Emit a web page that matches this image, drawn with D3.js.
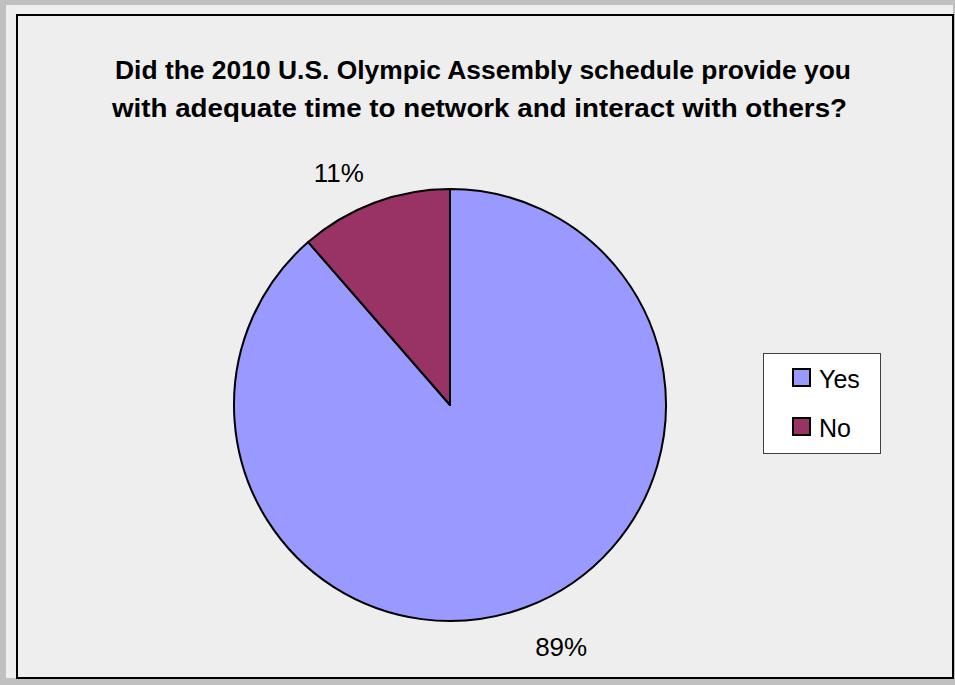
<!DOCTYPE html>
<html>
<head>
<meta charset="utf-8">
<script src="https://cdn.jsdelivr.net/npm/d3@7"></script>
<style>
  html, body { margin: 0; padding: 0; background: #c0c0c0; }
  svg { display: block; }
</style>
</head>
<body>
<script>
// ---- data ----
const categories = ["Yes", "No"];
const values = [88.6, 11.4];
const valueLabels = ["89%", "11%"];
const titleLines = [
  "Did the 2010 U.S. Olympic Assembly schedule provide you",
  "with adequate time to network and interact with others?"
];
const colors = ["#9999ff", "#993366"];

// ---- layout ----
const W = 955, H = 685;
const svg = d3.select("body").append("svg").attr("width", W).attr("height", H);

svg.append("rect").attr("x", 0).attr("y", 0).attr("width", W).attr("height", H).attr("fill", "#c0c0c0");
svg.append("rect").attr("x", 6).attr("y", 5).attr("width", 947).attr("height", 673).attr("fill", "#eeeeee");
svg.append("rect").attr("x", 17).attr("y", 15).attr("width", 936).attr("height", 663)
  .attr("fill", "none").attr("stroke", "#000").attr("stroke-width", 2);

// title
const titleFont = "'Liberation Sans', Arial, sans-serif";
const titleX = [483, 479.5];
const titleY = [78.5, 117];
const titleW = [736, 735];
titleLines.forEach((t, i) => {
  svg.append("text")
    .attr("x", titleX[i]).attr("y", titleY[i])
    .attr("text-anchor", "middle")
    .attr("font-family", titleFont).attr("font-weight", "bold").attr("font-size", 26)
    .attr("textLength", titleW[i]).attr("lengthAdjust", "spacingAndGlyphs")
    .attr("fill", "#000")
    .text(t);
});

// pie
const cx = 450, cy = 405, r = 216;
const pie = d3.pie().sort(null).value(d => d)(values);
const arc = d3.arc().innerRadius(0).outerRadius(r);
const g = svg.append("g").attr("transform", `translate(${cx},${cy})`);
g.selectAll("path").data(pie).join("path")
  .attr("d", arc)
  .attr("fill", (d, i) => colors[i])
  .attr("stroke", "#000").attr("stroke-width", 2).attr("stroke-linejoin", "round");

// data labels
const labelR = 262, angleShift = -0.08;
g.selectAll("text.lbl").data(pie).join("text")
  .attr("class", "lbl")
  .each(function(d, i) {
    const a = (d.startAngle + d.endAngle) / 2 + angleShift;
    d3.select(this)
      .attr("x", Math.sin(a) * labelR)
      .attr("y", -Math.cos(a) * labelR + 14)
      .attr("text-anchor", "middle")
      .attr("font-family", titleFont).attr("font-size", 26)
      .attr("fill", "#000")
      .text(valueLabels[i]);
  });

// legend
const lg = svg.append("g").attr("transform", "translate(763,353)");
lg.append("rect").attr("x", 0.5).attr("y", 0.5).attr("width", 117).attr("height", 100)
  .attr("fill", "#fff").attr("stroke", "#404040").attr("stroke-width", 1);
const ly = d3.scalePoint().domain(categories).range([24, 73]);
categories.forEach((c, i) => {
  lg.append("rect").attr("x", 30).attr("y", ly(c) - 8).attr("width", 17).attr("height", 17)
    .attr("fill", colors[i]).attr("stroke", "#000").attr("stroke-width", 2);
  lg.append("text").attr("x", 56).attr("y", ly(c) + 11)
    .attr("font-family", titleFont).attr("font-size", 25).attr("fill", "#000")
    .text(c);
});
</script>
</body>
</html>
